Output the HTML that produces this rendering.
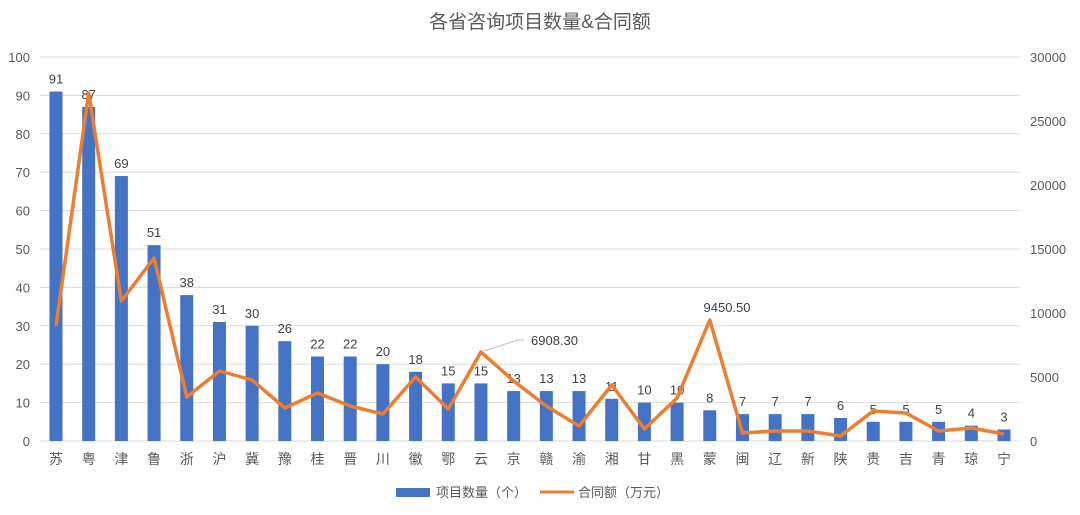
<!DOCTYPE html>
<html><head><meta charset="utf-8"><style>
body{margin:0;background:#fff;}
svg{display:block;font-family:"Liberation Sans","Noto Sans CJK SC",sans-serif;}
</style></head><body>
<svg id="c" width="1080" height="515" viewBox="0 0 1080 515">
<text x="540" y="28" text-anchor="middle" font-size="19" fill="#595959">各省咨询项目数量&amp;合同额</text>
<g id="g"></g>
<rect x="396" y="488" width="34" height="9" fill="#4472c4"/>
<text x="436" y="497" font-size="13" fill="#595959">项目数量（个）</text>
<line x1="540" y1="492" x2="574" y2="492" stroke="#ed7d31" stroke-width="3"/>
<text x="578" y="497" font-size="13" fill="#595959">合同额（万元）</text>
</svg>
<script>
var cats="苏粤津鲁浙沪冀豫桂晋川徽鄂云京赣渝湘甘黑蒙闽辽新陕贵吉青琼宁".split("");
var vals=[91,87,69,51,38,31,30,26,22,22,20,18,15,15,13,13,13,11,10,10,8,7,7,7,6,5,5,5,4,3];
var ly=[326,93,301,258,397,371,380,408,393,406,414,377,409,352,381,406,426,385,429,398,320,433,431,431,436,411,413,431,428,434];
var s="";
for(var k=0;k<=10;k++){var y=441-k*38.4;
s+='<line x1="40" y1="'+y+'" x2="1020" y2="'+y+'" stroke="#d9d9d9" stroke-width="1"/>';
s+='<text x="30" y="'+(y+5)+'" text-anchor="end" font-size="13" fill="#595959">'+(k*10)+'</text>';
}
for(var k=0;k<=6;k++){var y=441-k*64;s+='<text x="1030" y="'+(y+5)+'" font-size="13" fill="#595959">'+(k*5000)+'</text>';}
var pts=[];
var sp=948/29;
for(var i=0;i<30;i++){var x=56+sp*i,h=vals[i]*3.84;
s+='<rect x="'+(x-6.5)+'" y="'+(441-h)+'" width="13" height="'+h+'" fill="#4472c4"/>';
s+='<text x="'+x+'" y="'+(441-h-8)+'" text-anchor="middle" font-size="13" fill="#404040">'+vals[i]+'</text>';
s+='<text x="'+x+'" y="464" text-anchor="middle" font-size="14" fill="#595959">'+cats[i]+'</text>';
pts.push(x+","+ly[i]);}
s+='<polyline points="'+pts.join(" ")+'" fill="none" stroke="#ed7d31" stroke-width="3.5" stroke-linejoin="round"/>';
s+='<polyline points="484,351 518,340 524,340" fill="none" stroke="#bfbfbf" stroke-width="1"/>';
s+='<text x="531" y="345" font-size="13" fill="#404040">6908.30</text>';
s+='<text x="727" y="312" text-anchor="middle" font-size="13" fill="#404040">9450.50</text>';
document.getElementById("g").innerHTML=s;
</script>
</body></html>
